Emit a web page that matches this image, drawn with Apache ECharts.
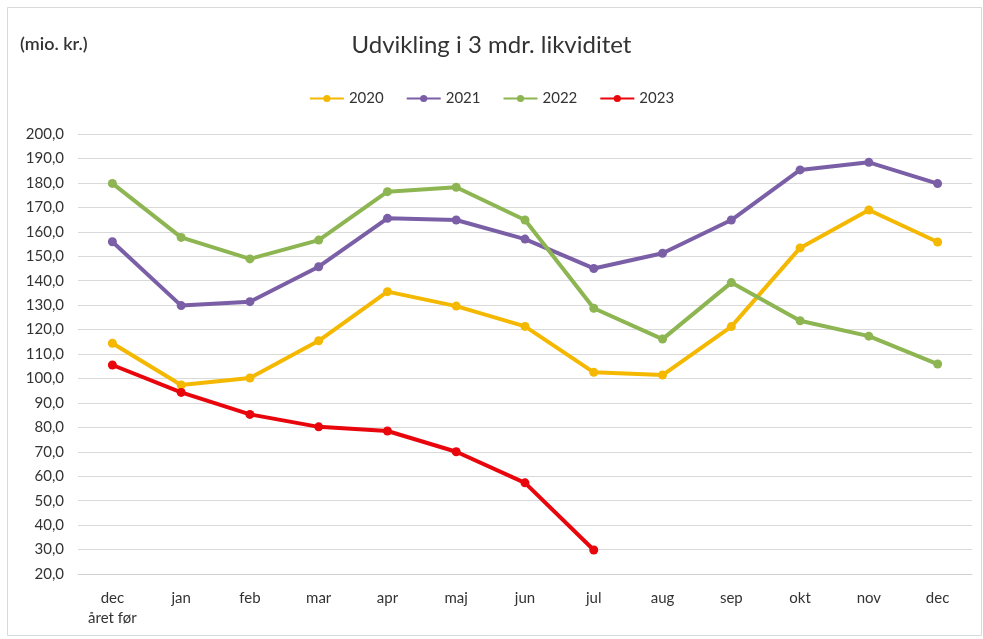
<!DOCTYPE html>
<html>
<head>
<meta charset="utf-8">
<script src="https://cdn.jsdelivr.net/npm/echarts@6/dist/echarts.min.js"></script>
<style>
  html, body { margin: 0; padding: 0; background: #fff; }
  #chart { width: 983px; height: 639px; }
</style>
</head>
<body>
<div id="chart"></div>
<script>
  var months = ['dec\nåret før', 'jan', 'feb', 'mar', 'apr', 'maj', 'jun', 'jul', 'aug', 'sep', 'okt', 'nov', 'dec']
  var years = ['2020', '2021', '2022', '2023']
  var colors = ['#f5b800', '#7a5fa6', '#8db552', '#e8060c']

  var v2020 = [114.4, 97.3, 100.2, 115.4, 135.5, 129.6, 121.3, 102.5, 101.4, 121.2, 153.4, 168.9, 155.8]
  var v2021 = [155.9, 129.8, 131.4, 145.7, 165.5, 164.8, 157.0, 145.0, 151.2, 164.8, 185.3, 188.4, 179.7]
  var v2022 = [179.8, 157.7, 148.9, 156.6, 176.4, 178.2, 164.8, 128.7, 116.1, 139.2, 123.6, 117.3, 105.9]
  var v2023 = [105.5, 94.3, 85.3, 80.2, 78.5, 70.0, 57.3, 29.8, null, null, null, null, null]

  var values = [v2020, v2021, v2022, v2023]
  var font = 'Lato, "DejaVu Sans", sans-serif'

  var chart = echarts.init(document.getElementById('chart'))

  // one line series per year
  var series = years.map(function(y, i) {
    return {
      name: y,
      type: 'line',
      data: values[i],
      symbol: 'circle',
      symbolSize: 9,
      lineStyle: { width: 4, color: colors[i] },
      itemStyle: { color: colors[i] },
      connectNulls: false,
      animation: false
    }
  })

  chart.setOption({
    backgroundColor: '#fff',
    textStyle: { fontFamily: font },
    title: {
      text: 'Udvikling i 3 mdr. likviditet',
      left: 'center',
      top: 28,
      textStyle: { fontFamily: font, fontSize: 24, fontWeight: 'normal', color: '#333' }
    },
    graphic: [
      {
        type: 'rect',
        shape: { x: 7.5, y: 7.5, width: 974, height: 628 },
        style: { fill: 'none', stroke: '#d9d9d9', lineWidth: 1 },
        silent: true
      },
      {
        type: 'text',
        left: 20,
        top: 35,
        style: { text: '(mio. kr.)', font: '600 18px Lato, sans-serif', fill: '#333' }
      }
    ],
    legend: {
      data: years,
      top: 86,
      left: 'center',
      itemWidth: 34,
      itemHeight: 9,
      itemGap: 22,
      textStyle: { fontFamily: font, fontSize: 15, color: '#333' }
    },
    grid: { left: 78, right: 11, top: 134, bottom: 65 },
    xAxis: {
      type: 'category',
      data: months,
      boundaryGap: true,
      axisLine: { lineStyle: { color: '#d0d0d0', width: 1 } },
      axisTick: { alignWithLabel: true, length: 5, lineStyle: { color: '#d0d0d0' } },
      axisLabel: { fontFamily: font, fontSize: 15, color: '#333', margin: 14, lineHeight: 20, interval: 0 }
    },
    yAxis: {
      type: 'value',
      min: 20,
      max: 200,
      interval: 10,
      axisLine: { show: false },
      axisTick: { show: false },
      splitLine: { lineStyle: { color: '#d9d9d9', width: 1 } },
      axisLabel: {
        fontFamily: font, fontSize: 15, color: '#333', margin: 14,
        formatter: function(v) { return v.toFixed(1).replace('.', ',') }
      }
    },
    series: series
  })
</script>
</body>
</html>
